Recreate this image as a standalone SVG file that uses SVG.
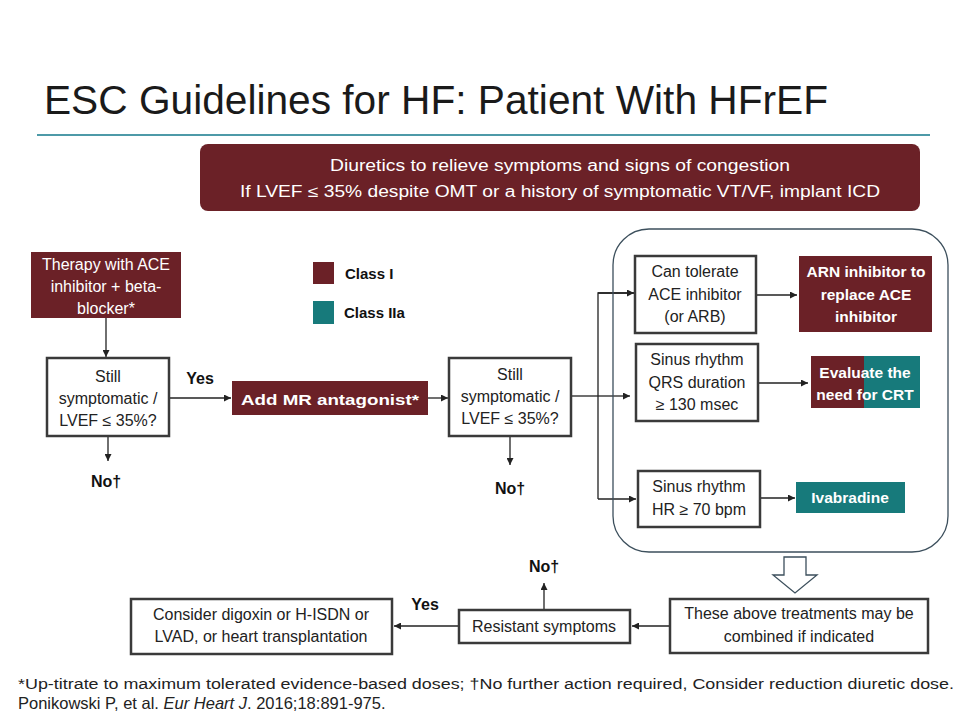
<svg xmlns="http://www.w3.org/2000/svg" width="960" height="720" viewBox="0 0 960 720">
<defs>
<marker id="ah" viewBox="0 0 10 10" refX="10" refY="5" markerWidth="7" markerHeight="7" markerUnits="userSpaceOnUse" orient="auto">
<path d="M0,0 L10,5 L0,10 z" fill="#222"/>
</marker>
<style>
text{font-family:"Liberation Sans",Arial,sans-serif;}
.t{font-size:16px;fill:#222;text-anchor:middle;}
.w{font-size:16px;fill:#fff;text-anchor:middle;}
.wb{font-size:15.5px;fill:#fff;text-anchor:middle;font-weight:bold;}
.b{font-size:16px;fill:#111;font-weight:bold;text-anchor:middle;}
.box{fill:#fff;stroke:#3a3a3a;stroke-width:2.5;}
.mar{fill:#6b2127;}
.teal{fill:#177a7b;}
.ln{fill:none;stroke:#222;stroke-width:1.3;}
.arr{fill:none;stroke:#222;stroke-width:1.3;marker-end:url(#ah);}
</style>
</defs>
<rect width="960" height="720" fill="#fff"/>
<text x="44" y="114" font-size="40" fill="#1a1a1a" textLength="784" lengthAdjust="spacingAndGlyphs">ESC Guidelines for HF: Patient With HFrEF</text>
<line x1="37" y1="135" x2="930" y2="135" stroke="#4d9aa8" stroke-width="2"/>

<g id="banner">
<rect x="200" y="144" width="720" height="67" rx="8" class="mar"/>
<text x="560" y="171" class="w" font-size="17.5" textLength="460" lengthAdjust="spacingAndGlyphs">Diuretics to relieve symptoms and signs of congestion</text>
<text x="560" y="197" class="w" font-size="17.5" textLength="640" lengthAdjust="spacingAndGlyphs">If LVEF ≤ 35% despite OMT or a history of symptomatic VT/VF, implant ICD</text>
</g>

<g id="legend">
<rect x="313" y="262" width="21" height="22" class="mar"/>
<text x="345" y="279" font-size="15" font-weight="bold" fill="#111">Class I</text>
<rect x="313" y="301" width="21" height="23" class="teal"/>
<text x="344" y="318" font-size="15" font-weight="bold" fill="#111">Class IIa</text>
</g>

<g id="connectors">
<line x1="106" y1="318" x2="106" y2="357" class="arr"/>
<line x1="108" y1="437" x2="108" y2="461" class="arr"/>
<line x1="170" y1="398" x2="231" y2="398" class="arr"/>
<line x1="428" y1="398" x2="448" y2="398" class="arr"/>
<line x1="510" y1="437" x2="510" y2="465" class="arr"/>
<line x1="572" y1="396" x2="598" y2="396" class="ln"/>
<polyline points="634,293 598,293 598,499" class="ln"/>
<line x1="598" y1="293" x2="634" y2="293" class="arr"/>
<line x1="598" y1="396" x2="630" y2="396" class="arr"/>
<line x1="598" y1="499" x2="636" y2="499" class="arr"/>
<line x1="757" y1="295" x2="797" y2="295" class="arr"/>
<line x1="759" y1="383" x2="808" y2="383" class="arr"/>
<line x1="761" y1="498" x2="795" y2="498" class="arr"/>
<line x1="669" y1="626" x2="632" y2="626" class="arr"/>
<line x1="544" y1="609" x2="544" y2="583" class="arr"/>
<line x1="458" y1="626" x2="394" y2="626" class="arr"/>
<path d="M784,557 L806,557 L806,575 L817,575 L795,593 L773,575 L784,575 Z" fill="#fff" stroke="#3c4f5c" stroke-width="1.3"/>
</g>

<g id="labels">
<text x="200" y="384" class="b">Yes</text>
<text x="106" y="487" class="b">No†</text>
<text x="510" y="494" class="b">No†</text>
<text x="544" y="572" class="b">No†</text>
<text x="425" y="610" class="b">Yes</text>
</g>

<g id="container">
<rect x="613" y="229" width="335" height="323" rx="36" fill="none" stroke="#3c4f5c" stroke-width="1.3"/>
</g>

<g id="therapy">
<rect x="31" y="252" width="150" height="66" class="mar"/>
<text x="106" y="270" class="w">Therapy with ACE</text>
<text x="106" y="292" class="w">inhibitor + beta-</text>
<text x="106" y="314" class="w">blocker*</text>
</g>

<g id="still1">
<rect x="47" y="358" width="122" height="78" class="box"/>
<text x="108" y="382" class="t">Still</text>
<text x="108" y="404" class="t">symptomatic /</text>
<text x="108" y="426" class="t">LVEF ≤ 35%?</text>
</g>

<g id="mra">
<rect x="232" y="381" width="196" height="34" class="mar"/>
<text x="330" y="405" class="wb" font-size="18.5" textLength="178" lengthAdjust="spacingAndGlyphs">Add MR antagonist*</text>
</g>

<g id="still2">
<rect x="449" y="358" width="122" height="78" class="box"/>
<text x="510" y="380" class="t">Still</text>
<text x="510" y="402" class="t">symptomatic /</text>
<text x="510" y="424" class="t">LVEF ≤ 35%?</text>
</g>

<g id="tolerate">
<rect x="635" y="256" width="121" height="77" class="box"/>
<text x="695" y="277" class="t">Can tolerate</text>
<text x="695" y="300" class="t">ACE inhibitor</text>
<text x="695" y="322" class="t">(or ARB)</text>
</g>

<g id="arni">
<rect x="799" y="256" width="133" height="76" class="mar"/>
<text x="866" y="277" class="wb" font-size="15.5">ARN inhibitor to</text>
<text x="866" y="300" class="wb" font-size="15.5">replace ACE</text>
<text x="866" y="322" class="wb" font-size="15.5">inhibitor</text>
</g>

<g id="qrs">
<rect x="636" y="344" width="122" height="77" class="box"/>
<text x="697" y="365" class="t">Sinus rhythm</text>
<text x="697" y="388" class="t">QRS duration</text>
<text x="697" y="410" class="t">≥ 130 msec</text>
</g>

<g id="crt">
<rect x="811" y="356" width="54" height="52" class="mar"/>
<rect x="864" y="356" width="56" height="52" class="teal"/>
<text x="865" y="378" class="wb" font-size="15">Evaluate the</text>
<text x="865" y="400" class="wb" font-size="15">need for CRT</text>
</g>

<g id="hr">
<rect x="638" y="471" width="122" height="56" class="box"/>
<text x="699" y="492" class="t">Sinus rhythm</text>
<text x="699" y="515" class="t">HR ≥ 70 bpm</text>
</g>

<g id="ivabradine">
<rect x="796" y="482" width="109" height="31" class="teal"/>
<text x="850" y="503" class="wb" font-size="15.5">Ivabradine</text>
</g>

<g id="combined">
<rect x="670" y="599" width="258" height="54" class="box"/>
<text x="799" y="619" class="t">These above treatments may be</text>
<text x="799" y="642" class="t">combined if indicated</text>
</g>

<g id="resistant">
<rect x="459" y="610" width="171" height="33" class="box"/>
<text x="544" y="632" class="t">Resistant symptoms</text>
</g>

<g id="digoxin">
<rect x="131" y="599" width="261" height="55" class="box"/>
<text x="261" y="620" class="t">Consider digoxin or H-ISDN or</text>
<text x="261" y="642" class="t">LVAD, or heart transplantation</text>
</g>

<g id="footer">
<text x="18" y="689" font-size="15.5" fill="#222" textLength="936" lengthAdjust="spacingAndGlyphs">*Up-titrate to maximum tolerated evidence-based doses; †No further action required, Consider reduction diuretic dose.</text>
<text x="18" y="709" font-size="16.5" fill="#222">Ponikowski P, et al. <tspan font-style="italic">Eur Heart J</tspan>. 2016;18:891-975.</text>
</g>
</svg>
